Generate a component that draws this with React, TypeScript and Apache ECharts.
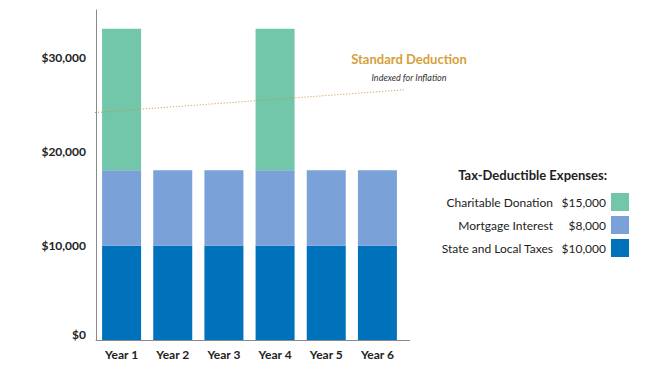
import React, { useEffect, useRef } from "react";
import * as echarts from "echarts";

const years = ["Year 1", "Year 2", "Year 3", "Year 4", "Year 5", "Year 6"];
const stateLocal = [10000, 10000, 10000, 10000, 10000, 10000];
const mortgage = [8000, 8000, 8000, 8000, 8000, 8000];
const charitable = [15000, 0, 0, 15000, 0, 0];
const legendValues: Record<string, string> = {
  "Charitable Donation": "$15,000",
  "Mortgage Interest": "$8,000",
  "State and Local Taxes": "$10,000",
};
const stdDeductionLine = [
  [-0.013, 24100],
  [1.03, 26600],
];

const FONT = "Lato, 'Noto Sans', sans-serif";

export default function App() {
  const ref = useRef<HTMLDivElement>(null);
  useEffect(() => {
    const chart = echarts.init(ref.current!, null, { renderer: "svg" });
    chart.setOption({
      animation: false,
      textStyle: { fontFamily: FONT },
      grid: { left: 96, right: 264, top: 10, bottom: 34 },
      xAxis: [
        {
          type: "category",
          data: years,
          axisLine: { lineStyle: { color: "#8a8a8a", width: 1 } },
          axisTick: { show: false },
          axisLabel: { color: "#222", fontWeight: "bold", fontSize: 12, margin: 8, fontFamily: FONT },
        },
        { type: "value", min: 0, max: 1, show: false },
      ],
      yAxis: {
        type: "value",
        min: 0,
        max: 35000,
        interval: 10000,
        offset: 4,
        axisLine: { show: true, lineStyle: { color: "#8a8a8a", width: 1 } },
        axisTick: { show: false },
        splitLine: { show: false },
        axisLabel: {
          color: "#222",
          fontWeight: "bold",
          fontSize: 12,
          margin: 6,
          fontFamily: FONT,
          verticalAlignMinLabel: "bottom",
          formatter: (v: number) => (v > 30000 ? "" : "$" + v.toLocaleString("en-US")),
        },
      },
      legend: {
        orient: "vertical",
        right: 33,
        top: 188,
        align: "right",
        icon: "rect",
        itemWidth: 18,
        itemHeight: 18,
        itemGap: 5,
        data: ["Charitable Donation", "Mortgage Interest", "State and Local Taxes"],
        formatter: (name: string) => `{n|${name}}{v|${legendValues[name]}}`,
        textStyle: {
          color: "#222",
          fontSize: 12,
          fontFamily: FONT,
          rich: {
            n: { width: 114, align: "right", fontSize: 12, fontFamily: FONT, color: "#222" },
            v: { width: 53, align: "right", fontSize: 12, fontFamily: FONT, color: "#222" },
          },
        },
      },
      graphic: [
        {
          type: "text",
          right: 60,
          top: 168,
          style: { text: "Tax-Deductible Expenses:", fill: "#222", font: `bold 13px ${FONT}` },
        },
        {
          type: "text",
          x: 409,
          y: 59,
          style: { text: "Standard Deduction", textAlign: "center", textVerticalAlign: "middle", fill: "#D6A03C", font: `bold 13px ${FONT}` },
        },
        {
          type: "text",
          x: 409,
          y: 77,
          style: { text: "Indexed for Inflation", textAlign: "center", textVerticalAlign: "middle", fill: "#333", font: `italic 9px ${FONT}` },
        },
        {
          type: "line",
          shape: { x1: 403, y1: 340.5, x2: 410, y2: 340.5 },
          style: { stroke: "#8a8a8a", lineWidth: 1 },
        },
      ],
      series: [
        {
          name: "State and Local Taxes",
          type: "bar",
          stack: "t",
          data: stateLocal,
          barWidth: 39,
          itemStyle: { color: "#0072BC" },
        },
        {
          name: "Mortgage Interest",
          type: "bar",
          stack: "t",
          data: mortgage,
          barWidth: 39,
          itemStyle: { color: "#7AA1D8" },
        },
        {
          name: "Charitable Donation",
          type: "bar",
          stack: "t",
          data: charitable,
          barWidth: 39,
          itemStyle: { color: "#72C6A9" },
        },
        {
          name: "Standard Deduction",
          type: "line",
          xAxisIndex: 1,
          data: stdDeductionLine,
          symbol: "none",
          clip: false,
          lineStyle: { color: "#C8923A", width: 1, type: [1, 2] },
          z: 5,
        },
      ],
    });
    return () => chart.dispose();
  }, []);
  return <div ref={ref} style={{ position: "fixed", left: 0, top: 0, width: 667, height: 374, background: "#fff" }} />;
}
